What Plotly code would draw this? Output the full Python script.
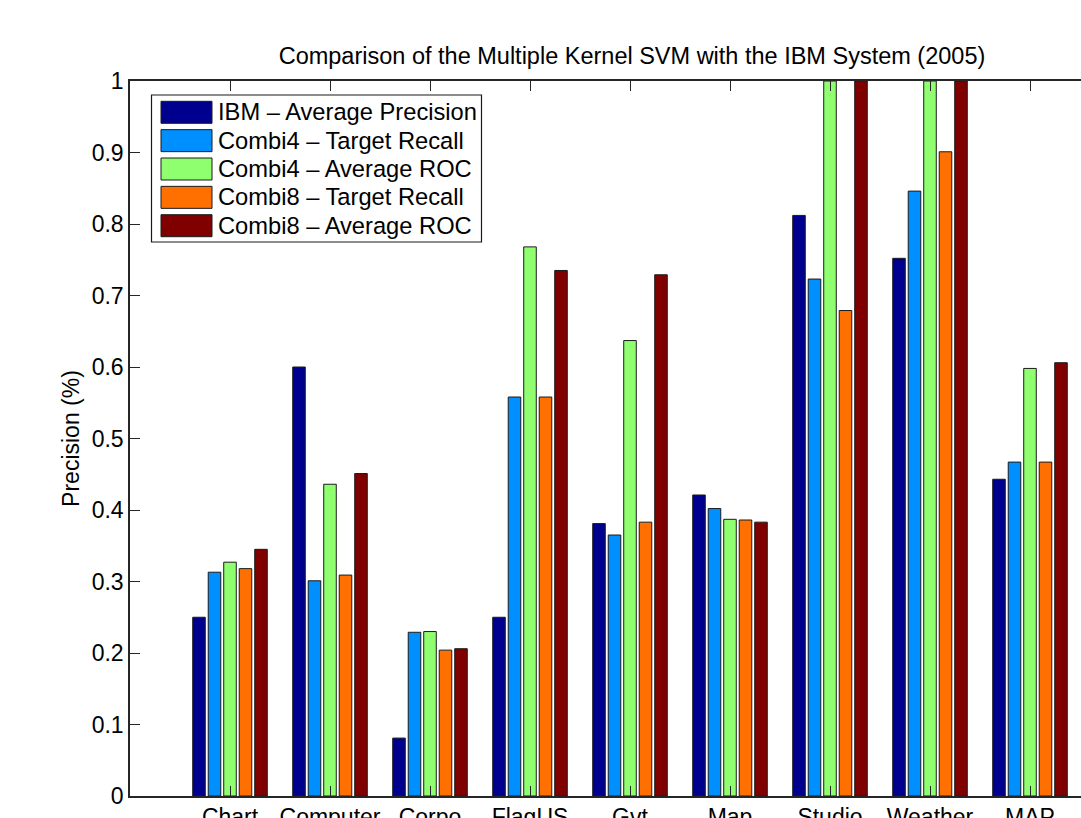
import plotly.graph_objects as go

categories = ["Chart", "Computer", "Corpo", "FlagUS", "Gvt", "Map", "Studio", "Weather", "MAP"]
series_names = ["IBM \u2013 Average Precision", "Combi4 \u2013 Target Recall", "Combi4 \u2013 Average ROC",
                "Combi8 \u2013 Target Recall", "Combi8 \u2013 Average ROC"]
ibm_ap = [0.25, 0.60, 0.081, 0.25, 0.381, 0.421, 0.812, 0.752, 0.443]
combi4_tr = [0.313, 0.301, 0.229, 0.558, 0.365, 0.402, 0.723, 0.846, 0.467]
combi4_roc = [0.327, 0.436, 0.230, 0.768, 0.637, 0.387, 1.0, 1.0, 0.598]
combi8_tr = [0.318, 0.309, 0.204, 0.558, 0.383, 0.386, 0.679, 0.901, 0.467]
combi8_roc = [0.345, 0.451, 0.206, 0.735, 0.729, 0.383, 1.0, 1.0, 0.606]
series_values = [ibm_ap, combi4_tr, combi4_roc, combi8_tr, combi8_roc]
colors = ["#00008F", "#008FFF", "#8FFF70", "#FF7000", "#800000"]
y_ticks = [0, 0.1, 0.2, 0.3, 0.4, 0.5, 0.6, 0.7, 0.8, 0.9, 1]
y_tick_labels = ["0", "0.1", "0.2", "0.3", "0.4", "0.5", "0.6", "0.7", "0.8", "0.9", "1"]

W, H = 1081, 818
L, R, T, B = 130, 0, 81, 22
PW, PH = W - L - R, H - T - B
FONT = "Liberation Sans, Arial, Helvetica, sans-serif"
FS = 23

xpos = list(range(1, len(categories) + 1))

fig = go.Figure()
for name, vals, col in zip(series_names, series_values, colors):
    fig.add_trace(go.Bar(
        x=xpos, y=vals, name=name,
        marker=dict(color=col, line=dict(color="#1a1a1a", width=1)),
        showlegend=False,
    ))

def px(xp):
    return (xp - L) / PW

def py(yp):
    return (H - B - yp) / PH

shapes = []
annotations = []
# legend box
shapes.append(dict(type="rect", xref="paper", yref="paper",
                   x0=px(151.5), x1=px(481.5), y0=py(242), y1=py(95),
                   line=dict(color="#1a1a1a", width=1.2), fillcolor="white", layer="above"))
row0, step = 112.3, 28.35
for i, (name, col) in enumerate(zip(series_names, colors)):
    cy = row0 + i * step
    shapes.append(dict(type="rect", xref="paper", yref="paper",
                       x0=px(161), x1=px(212), y0=py(cy + 11), y1=py(cy - 11),
                       line=dict(color="#1a1a1a", width=1), fillcolor=col, layer="above"))
    annotations.append(dict(xref="paper", yref="paper", x=px(216), y=py(cy),
                            xanchor="left", yanchor="middle", text=name, showarrow=False,
                            font=dict(family=FONT, size=23.7, color="black")))

fig.update_layout(
    width=W, height=H,
    margin=dict(l=L, r=R, t=T, b=B, pad=0, autoexpand=False),
    paper_bgcolor="white", plot_bgcolor="white",
    barmode="group", bargap=0.225, bargroupgap=0.19,
    font=dict(family=FONT, size=FS, color="black"),
    title=dict(text="Comparison of the Multiple Kernel SVM with the IBM System (2005)",
               x=(632 - L) / PW, xref="paper", xanchor="center",
               y=1 - 56 / H, yanchor="middle", yref="container",
               font=dict(family=FONT, size=23.5, color="black")),
    shapes=shapes, annotations=annotations,
    xaxis=dict(range=[0, 9.51], tickvals=xpos, ticktext=categories,
               ticks="inside", ticklen=10, tickcolor="#262626", automargin=False,
               showline=True, linecolor="#262626", linewidth=1.5, mirror="ticks",
               showgrid=False, zeroline=False,
               tickfont=dict(family=FONT, size=FS, color="black")),
    yaxis=dict(range=[0, 1], tickvals=y_ticks, ticktext=y_tick_labels,
               ticks="inside", ticklen=10, tickcolor="#262626", automargin=False,
               showline=True, linecolor="#262626", linewidth=1.5,
               showgrid=False, zeroline=False,
               title=dict(text="Precision (%)", standoff=6,
                          font=dict(family=FONT, size=FS, color="black")),
               tickfont=dict(family=FONT, size=FS, color="black")),
)

fig.write_html("out.html", config={"displayModeBar": False},
               post_script="document.body.style.margin='0';document.body.style.overflow='hidden';")
